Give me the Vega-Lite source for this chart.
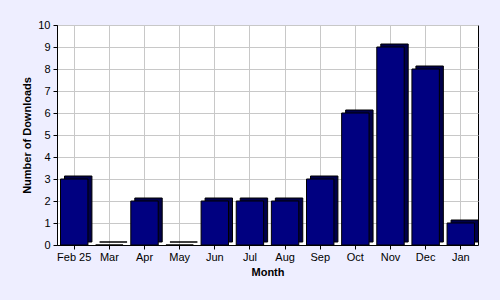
{
  "$schema": "https://vega.github.io/schema/vega-lite/v6.json",
  "width": 421,
  "height": 220,
  "autosize": {"type": "none"},
  "padding": {"left": 57, "top": 25, "right": 22, "bottom": 55},
  "background": "#EEEEFF",
  "config": {
    "view": {"fill": "white", "stroke": "black", "strokeWidth": 1},
    "font": "Liberation Sans",
    "axis": {
      "labelFont": "Liberation Sans",
      "labelFontSize": 11,
      "labelColor": "black",
      "titleFont": "Liberation Sans",
      "titleFontSize": 11,
      "titleFontWeight": "bold",
      "titleColor": "black",
      "domainColor": "black",
      "tickColor": "black",
      "tickSize": 4,
      "gridColor": "#C8C8C8",
      "gridOpacity": 1
    }
  },
  "data": {
    "values": [
      {"month": "Feb 25", "downloads": 3},
      {"month": "Mar", "downloads": 0},
      {"month": "Apr", "downloads": 2},
      {"month": "May", "downloads": 0},
      {"month": "Jun", "downloads": 2},
      {"month": "Jul", "downloads": 2},
      {"month": "Aug", "downloads": 2},
      {"month": "Sep", "downloads": 3},
      {"month": "Oct", "downloads": 6},
      {"month": "Nov", "downloads": 9},
      {"month": "Dec", "downloads": 8},
      {"month": "Jan", "downloads": 1}
    ]
  },
  "encoding": {
    "x": {
      "field": "month",
      "type": "nominal",
      "sort": null,
      "title": "Month",
      "scale": {"paddingInner": 0.22, "paddingOuter": 0.1},
      "axis": {"labelAngle": 0, "grid": true, "bandPosition": 0.5, "labelPadding": 2, "titlePadding": 4}
    },
    "y": {
      "field": "downloads",
      "type": "quantitative",
      "title": "Number of Downloads",
      "scale": {"domain": [0, 10], "nice": false},
      "axis": {"values": [0,1,2,3,4,5,6,7,8,9,10], "labelOverlap": false, "grid": true, "titlePadding": 5, "labelPadding": 3}
    }
  },
  "layer": [
    {
      "mark": {"type": "bar", "color": "#00004A", "stroke": "black", "strokeWidth": 1, "xOffset": 4, "yOffset": -3}
    },
    {
      "mark": {"type": "bar", "color": "#000080", "stroke": "black", "strokeWidth": 1}
    }
  ]
}
